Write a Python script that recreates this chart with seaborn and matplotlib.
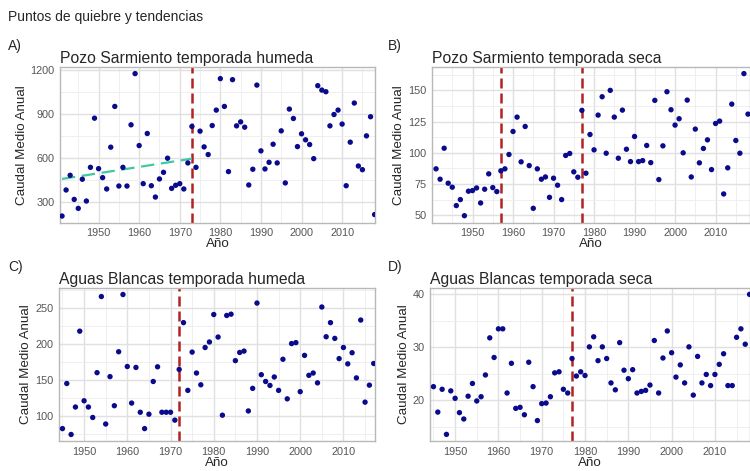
import matplotlib
matplotlib.use("Agg")
import matplotlib.pyplot as plt
import pandas as pd
import numpy as np
import seaborn as sns

# Pozo Sarmiento, temporada humeda (1941-2018)
ps_hum_years = list(range(1941, 2019))
ps_hum_vals = [205, 382, 482, 318, 257, 455, 307, 536, 870, 527,
               466, 389, 673, 950, 409, 536, 409, 825, 1173, 684,
               425, 766, 411, 334, 457, 502, 598, 393, 414, 425,
               389, 566, 814, 536, 782, 675, 623, 820, 925, 1139,
               950, 507, 1132, 818, 845, 809, 416, 523, 1095, 648,
               525, 570, 693, 566, 784, 430, 932, 868, 677, 764,
               723, 691, 595, 1091, 1061, 1050, 818, 895, 925, 830,
               411, 707, 973, 545, 520, 750, 880, 215]
ps_hum_breaks = [1973]
ps_hum_trend_years = [1941, 1973]
ps_hum_trend_vals = [457, 595]

# Pozo Sarmiento, temporada seca (1941-2018)
ps_sec_years = list(range(1941, 2019))
ps_sec_vals = [87.2, 78.9, 103.7, 75.7, 72.5, 57.8, 62.6, 49.7, 69.3, 69.8,
               71.9, 59.9, 70.9, 83.2, 72.2, 69.0, 85.6, 87.2, 98.7, 117.1,
               128.6, 92.8, 121.1, 89.8, 55.6, 87.2, 78.9, 80.7, 64.4, 79.7,
               74.1, 62.6, 97.9, 99.5, 84.8, 80.5, 134.0, 83.7, 114.7, 102.4,
               130.2, 144.9, 99.7, 150.0, 128.6, 95.7, 134.2, 102.9, 93.0, 113.1,
               93.0, 93.8, 105.9, 92.2, 142.0, 78.6, 105.6, 148.9, 134.5, 122.2,
               127.3, 100.0, 142.2, 80.7, 119.0, 92.0, 103.5, 110.4, 86.6, 123.5,
               125.4, 67.1, 88.0, 139.0, 109.9, 99.7, 163.4, 131.0]
ps_sec_breaks = [1957, 1977]

# Aguas Blancas, temporada humeda (1945-2017)
ab_hum_years = list(range(1945, 2018))
ab_hum_vals = [82.2, 145.1, 74.0, 112.3, 218.1, 121.0, 112.3, 97.7, 160.2, 266.4,
               88.6, 154.7, 114.1, 189.4, 269.2, 168.8, 117.8, 167.5, 105.0, 82.2,
               102.3, 147.9, 168.4, 105.0, 105.0, 105.0, 94.0, 164.7, 230.0, 135.5,
               188.9, 159.7, 143.3, 195.3, 203.0, 241.3, 209.9, 100.9, 240.0, 241.8,
               177.0, 188.4, 190.3, 106.8, 138.3, 257.3, 157.4, 147.9, 142.4, 154.2,
               135.5, 178.9, 123.7, 200.8, 202.1, 133.7, 184.3, 156.5, 159.7, 146.0,
               251.8, 210.3, 230.0, 208.0, 179.8, 195.3, 172.5, 188.0, 152.9, 233.6,
               119.1, 142.8, 173.0]
ab_hum_breaks = [1972]

# Aguas Blancas, temporada seca (1945-2018)
ab_sec_years = list(range(1945, 2019))
ab_sec_vals = [22.6, 17.8, 22.1, 13.6, 21.8, 20.4, 17.7, 16.5, 20.8, 23.2,
               19.9, 20.7, 24.8, 31.8, 28.1, 33.5, 33.5, 21.4, 27.0, 18.5,
               18.7, 17.3, 27.2, 22.6, 16.2, 19.4, 19.5, 20.7, 25.2, 25.4,
               22.1, 21.4, 27.9, 24.6, 25.4, 24.7, 30.1, 32.0, 27.5, 30.1,
               27.9, 23.3, 22.0, 30.9, 25.7, 24.1, 25.8, 21.4, 21.7, 21.9,
               22.9, 31.3, 21.4, 28.0, 33.1, 29.0, 24.4, 26.7, 23.3, 30.1,
               21.0, 28.3, 23.3, 24.9, 22.8, 24.9, 26.8, 28.8, 22.8, 22.8,
               31.9, 33.5, 30.6, 40.0]
ab_sec_breaks = [1977]

sns.set_style("white")
plt.rcParams["font.family"] = ["Liberation Sans", "DejaVu Sans"]

W, H = 750, 471
fig = plt.figure(figsize=(7.5, 4.71), dpi=100)


def box(l, t, r, b):
    return [l / W, 1 - b / H, (r - l) / W, (b - t) / H]


panels = [
    dict(rect=box(60, 67, 375, 222.5), years=ps_hum_years, vals=ps_hum_vals,
         breaks=ps_hum_breaks, title="Pozo Sarmiento temporada humeda",
         xlim=(1940.5, 2018.1), ylim=(161, 1218),
         yticks=[300, 600, 900, 1200], yminor=[450, 750, 1050],
         label="A)", lab_xy=(8, 46)),
    dict(rect=box(432, 67, 750, 222.7), years=ps_sec_years, vals=ps_sec_vals,
         breaks=ps_sec_breaks, title="Pozo Sarmiento temporada seca",
         xlim=(1940.0, 2018.5), ylim=(44.1, 168.7),
         yticks=[50, 75, 100, 125, 150], yminor=[62.5, 87.5, 112.5, 137.5, 162.5],
         label="B)", lab_xy=(388, 46)),
    dict(rect=box(59, 288, 375, 441), years=ab_hum_years, vals=ab_hum_vals,
         breaks=ab_hum_breaks, title="Aguas Blancas temporada humeda",
         xlim=(1944.2, 2017.3), ylim=(64.9, 278.3),
         yticks=[100, 150, 200, 250], yminor=[75, 125, 175, 225, 275],
         label="C)", lab_xy=(8, 267)),
    dict(rect=box(430, 288, 750, 441), years=ab_sec_years, vals=ab_sec_vals,
         breaks=ab_sec_breaks, title="Aguas Blancas temporada seca",
         xlim=(1944.2, 2018.1), ylim=(12.35, 41.2),
         yticks=[20, 30, 40], yminor=[15, 25, 35],
         label="D)", lab_xy=(388, 267)),
]

for i, p in enumerate(panels):
    ax = fig.add_axes(p["rect"])
    df = pd.DataFrame({"Año": p["years"], "Caudal": p["vals"]})
    ax.set_xlim(*p["xlim"])
    ax.set_ylim(*p["ylim"])
    ax.set_xticks([1950, 1960, 1970, 1980, 1990, 2000, 2010])
    ax.set_xticks([1945, 1955, 1965, 1975, 1985, 1995, 2005, 2015], minor=True)
    ax.set_yticks(p["yticks"])
    ax.set_yticks(p["yminor"], minor=True)
    ax.grid(True, which="major", color="#e0e0e0", linewidth=1.0)
    ax.grid(True, which="minor", color="#ededed", linewidth=0.6)
    ax.set_axisbelow(True)
    for b in p["breaks"]:
        ax.axvline(b, color="#b22222", linestyle=(0, (4, 2)), linewidth=1.8, zorder=2)
    if i == 0:
        tr = pd.DataFrame({"x": ps_hum_trend_years, "y": ps_hum_trend_vals})
        sns.lineplot(data=tr, x="x", y="y", ax=ax, color="#3ec9a2",
                     linestyle=(0, (6, 3)), linewidth=1.6, zorder=3)
    sns.scatterplot(data=df, x="Año", y="Caudal", ax=ax, color="#0a0a8c",
                    s=15, edgecolor="none", zorder=4, clip_on=True)
    for sp in ax.spines.values():
        sp.set_color("#b8b8b8")
        sp.set_linewidth(1.0)
    ax.tick_params(axis="both", which="major", labelsize=7.8, colors="#b8b8b8",
                   labelcolor="#555555", length=2.5, width=0.8, pad=1.5)
    ax.tick_params(axis="both", which="minor", length=0)
    ax.set_xlabel("Año", fontsize=9.6, labelpad=0)
    ax.set_ylabel("Caudal Medio Anual", fontsize=9.6, labelpad=2)
    ax.set_title(p["title"], fontsize=11.3, loc="left", pad=3)
    fig.text(p["lab_xy"][0] / W, 1 - p["lab_xy"][1] / H, p["label"],
             fontsize=10, ha="left", va="center")

fig.text(8 / W, 1 - 17 / H, "Puntos de quiebre y tendencias", fontsize=10,
         ha="left", va="center")

fig.savefig("out.png", dpi=100)
